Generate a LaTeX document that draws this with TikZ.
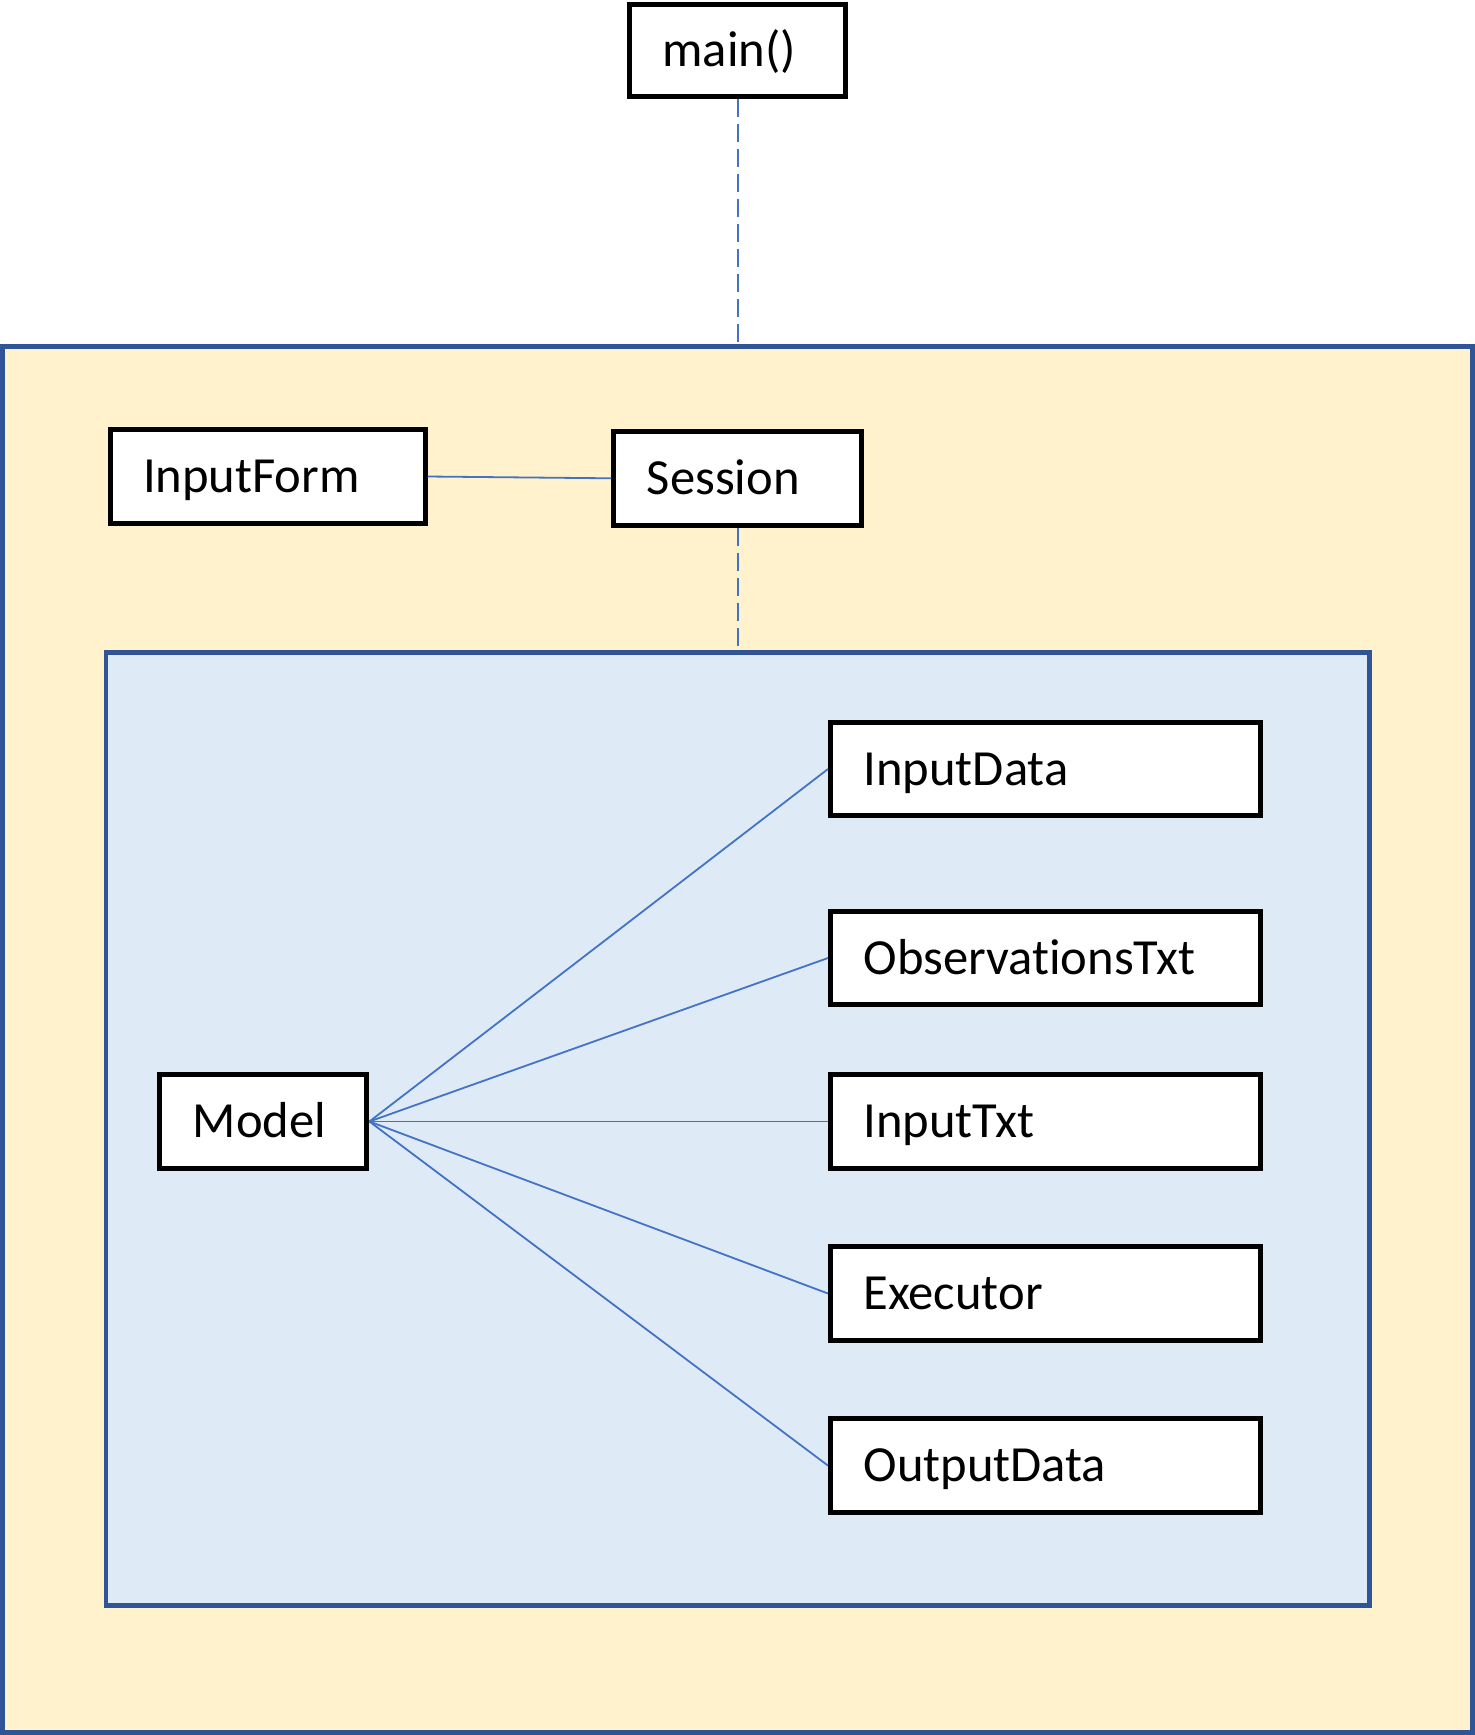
\documentclass[tikz,border=0pt]{standalone}
\usepackage{fontspec}
\setmainfont{Carlito}[RawFeature={-liga;-clig;-dlig;-calt;-rlig}]
\definecolor{appfill}{HTML}{FFF2CC}
\definecolor{modelfill}{HTML}{DEEBF7}
\definecolor{framecol}{HTML}{2F5597}
\definecolor{linkcol}{HTML}{4472C4}
\tikzset{
  classbox/.style={draw, line width=5pt, fill=white, inner xsep=33pt,
    minimum height=93.5pt, text width=#1, align=left,
    text height=32pt, text depth=0pt,
    font=\fontsize{50.6pt}{60pt}\selectfont},
  frame/.style={draw=framecol, line width=4.8pt, inner sep=0pt},
  link/.style={draw=linkcol, line width=1.8pt},
  calldash/.style={draw=linkcol, line width=2pt, dash pattern=on 18pt off 7pt}
}
\begin{document}
\begin{tikzpicture}[x=1pt,y=-1pt]
                \useasboundingbox (0,0) rectangle (1475,1735);
                \node[frame, fill=appfill, minimum width=1470.2pt, minimum height=1386pt] (app) at (737.4,1039.5) {};
                \node[frame, fill=modelfill, minimum width=1263.5pt, minimum height=953pt] (pkg) at (737.75,1129) {};
                \node[classbox=150pt, minimum height=92pt] (main) at (737.5,50) {main()};
                \node[classbox=249pt] (inputform) at (267.5,476.5) {InputForm};
                \node[classbox=181.5pt] (session) at (737.7,478.3) {Session};
                \node[classbox=141pt] (model) at (263.4,1121.5) {Model};
                \node[classbox=364pt] (inputdata) at (1045.5,769) {InputData};
                \node[classbox=364pt] (obstxt) at (1045.5,958) {ObservationsTxt};
                \node[classbox=364pt] (inputtxt) at (1045.5,1121.5) {InputTxt};
                \node[classbox=364pt] (executor) at (1045.5,1293.5) {Executor};
                \node[classbox=364pt] (outputdata) at (1045.5,1465.6) {OutputData};
                \draw [calldash] (main.south) -- (main.south |- app.north);
                \draw [calldash] (session.south) -- (session.south |- pkg.north);
                \draw [link] (inputform.east) -- (session.west);
                \draw [link] (model.east) -- (inputdata.west);
                \draw [link] (model.east) -- (obstxt.west);
                \draw [link] (model.east) -- (inputtxt.west);
                \draw [link] (model.east) -- (executor.west);
                \draw [link] (model.east) -- (outputdata.west);
            \end{tikzpicture}
\end{document}
